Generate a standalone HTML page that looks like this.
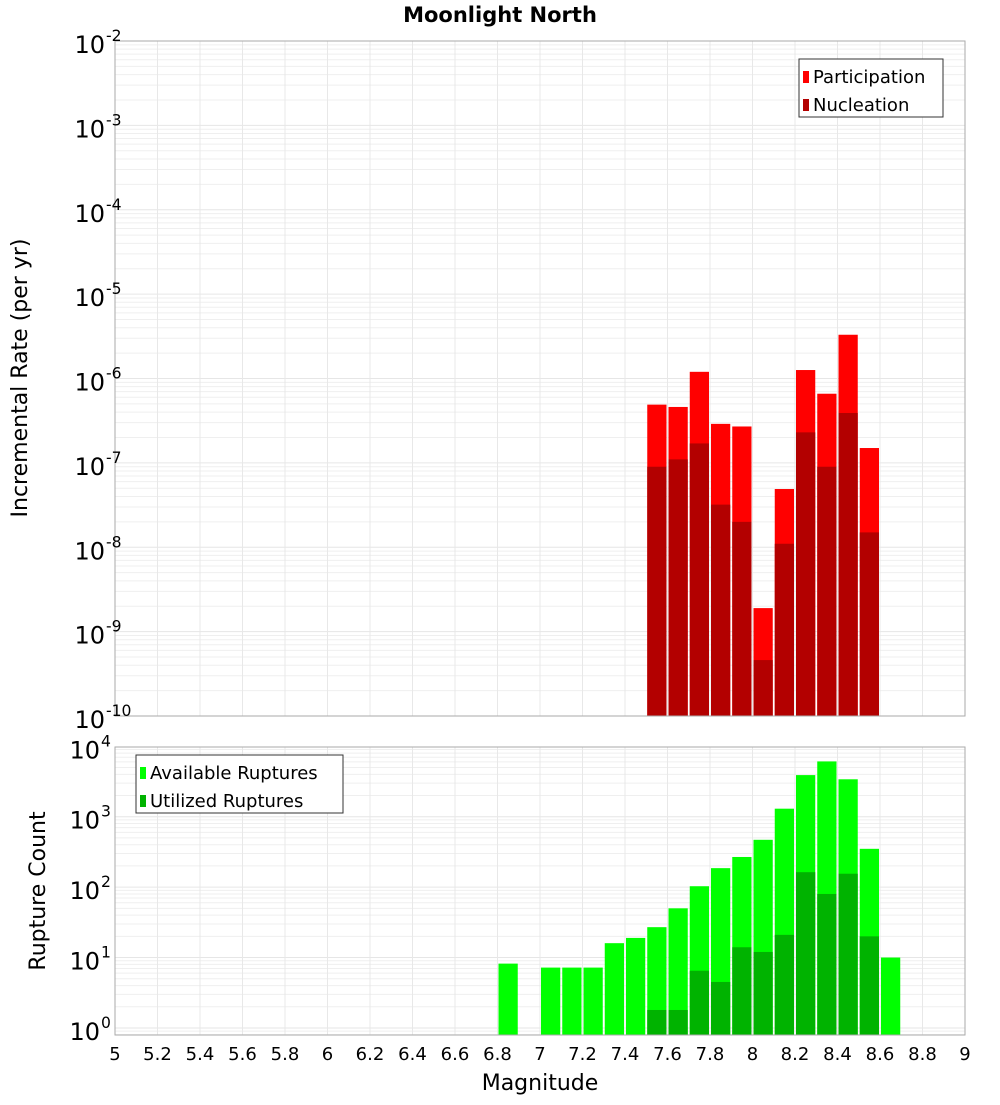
<!DOCTYPE html>
<html><head><meta charset="utf-8"><style>
body{margin:0;background:#fff;font-family:"Liberation Sans","DejaVu Sans",sans-serif}
svg text{font-family:"DejaVu Sans","Liberation Sans",sans-serif}
</style></head><body>
<svg id="chart" width="1000" height="1100" xmlns="http://www.w3.org/2000/svg">
<text x="500" y="22" text-anchor="middle" font-size="21" font-weight="bold">Moonlight North</text>
<g id="top"></g><g id="bot"></g>
<text transform="translate(27,378) rotate(-90)" text-anchor="middle" font-size="22">Incremental Rate (per yr)</text>
<text transform="translate(45,891) rotate(-90)" text-anchor="middle" font-size="22">Rupture Count</text>
<text x="540" y="1090" text-anchor="middle" font-size="22">Magnitude</text>
</svg>
<script>
const binCenters=[7.55,7.65,7.75,7.85,7.95,8.05,8.15,8.25,8.35,8.45,8.55];
const participation=[4.9e-7,4.6e-7,1.2e-6,2.9e-7,2.7e-7,1.9e-9,4.9e-8,1.26e-6,6.6e-7,3.3e-6,1.5e-7];
const nucleation=[9e-8,1.1e-7,1.7e-7,3.2e-8,2.0e-8,4.6e-10,1.1e-8,2.3e-7,9e-8,3.9e-7,1.5e-8];
const availCenters=[6.85,7.05,7.15,7.25,7.35,7.45,7.55,7.65,7.75,7.85,7.95,8.05,8.15,8.25,8.35,8.45,8.55,8.65];
const available=[8.2,7.2,7.2,7.2,16,19,27,50,103,186,268,470,1300,3900,6100,3400,350,10];
const utilCenters=[7.55,7.65,7.75,7.85,7.95,8.05,8.15,8.25,8.35,8.45,8.55];
const utilized=[1.8,1.8,6.5,4.5,14,12,21,163,80,155,20];
const xTicks=[5,5.2,5.4,5.6,5.8,6,6.2,6.4,6.6,6.8,7,7.2,7.4,7.6,7.8,8,8.2,8.4,8.6,8.8,9];
const topExps=[-2,-3,-4,-5,-6,-7,-8,-9,-10];
const botExps=[0,1,2,3,4];

const NS="http://www.w3.org/2000/svg";
const X0=115,X1=965;
const x=m=>X0+(m-5)/4*(X1-X0);
function mk(p,t,a){const e=document.createElementNS(NS,t);for(const k in a)e.setAttribute(k,a[k]);p.appendChild(e);return e;}
function panel(g,top,bot,lmin,lmax){
  const y=v=>bot-(Math.log10(v)-lmin)/(lmax-lmin)*(bot-top);
  for(let d=Math.floor(lmin);d<lmax;d++)for(let k=1;k<10;k++){const v=k*Math.pow(10,d);const lv=Math.log10(v);if(lv<lmin||lv>lmax)continue;
    const l=mk(g,'line',{x1:X0,x2:X1,y1:y(v),y2:y(v),stroke:k==1?'#e6e6e6':'#efefef','stroke-width':1});
    
    }
  xTicks.forEach(t=>{const l=mk(g,'line',{x1:x(t),x2:x(t),y1:top,y2:bot,stroke:'#e8e8e8'});
    
    });
  return y;
}
function bars(g,cs,vs,y,bot,fill,name){
  cs.forEach((c,i)=>{const yy=y(vs[i]);const r=mk(g,'rect',{x:x(c-0.05)+1,width:x(0.1)-x(0)-2,y:yy,height:bot-yy,fill:fill});
    
    });
}
function expLabel(g,xr,yy,e,fs,name){
  const t=mk(g,'text',{x:xr,y:yy,'font-size':fs,'text-anchor':'end'});t.textContent='10';
  
  
  const s=mk(g,'text',{x:xr+1,y:yy-fs*0.5,'font-size':fs*0.65});s.textContent=e;
  
  
}
function legend(g,lx,ly,w,items){
  const b=mk(g,'rect',{x:lx,y:ly,width:w,height:58,fill:'#fff',stroke:'#333'});
  
  
  items.forEach((it,i)=>{const r=mk(g,'rect',{x:lx+4,y:ly+12+i*28,width:6,height:12,fill:it[1]});
    
    
    const t=mk(g,'text',{x:lx+14,y:ly+24+i*28,'font-size':18});t.textContent=it[0];
    
    });
}
// top
const gt=document.getElementById('top');
const yT=panel(gt,41,716,-10,-2);
bars(gt,binCenters,participation,yT,716,'#ff0000','participation-bar');
bars(gt,binCenters,nucleation,yT,716,'#b30000','nucleation-bar');
const bt=mk(gt,'rect',{x:X0,y:41,width:X1-X0,height:675,fill:'none',stroke:'#aaa'});


topExps.forEach(e=>expLabel(gt,105,yT(Math.pow(10,e))+12,e,24,'top-y-tick-label'));
legend(gt,799,59,144,[['Participation','#ff0000'],['Nucleation','#b30000']]);
// bottom
const gb=document.getElementById('bot');
const yB=panel(gb,747,1035,-0.1,3.99);
bars(gb,availCenters,available,yB,1035,'#00ff00','available-bar');
bars(gb,utilCenters,utilized,yB,1035,'#00b300','utilized-bar');
const bb=mk(gb,'rect',{x:X0,y:747,width:X1-X0,height:288,fill:'none',stroke:'#aaa'});


botExps.forEach(e=>expLabel(gb,100,yB(Math.pow(10,e))+12,e,24,'bottom-y-tick-label'));
legend(gb,136,755,207,[['Available Ruptures','#00ff00'],['Utilized Ruptures','#00b300']]);
xTicks.forEach(t=>{const s=mk(gb,'text',{x:x(t),y:1060,'font-size':18,'text-anchor':'middle'});s.textContent=String(t);
  
  });
</script>
</body></html>
